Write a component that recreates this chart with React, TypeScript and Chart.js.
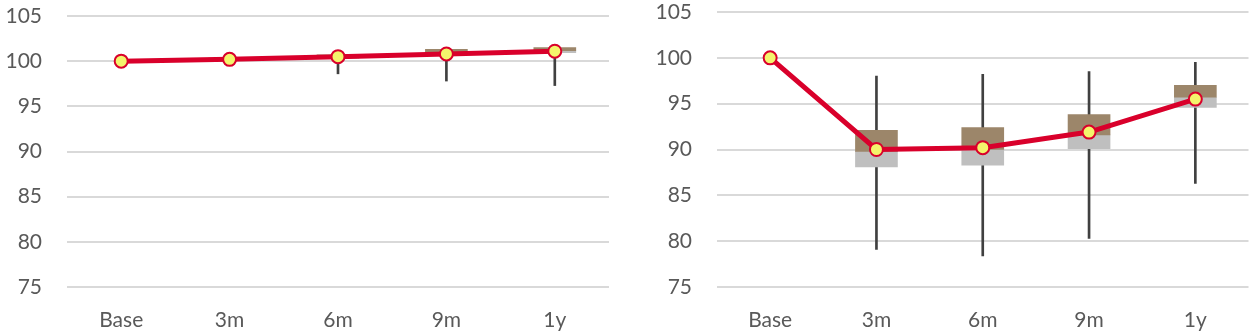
import React, { useEffect, useRef } from "react";
import { Chart, registerables } from "chart.js";

Chart.register(...registerables);

const categories = ["Base", "3m", "6m", "9m", "1y"];
const yTicks = [75, 80, 85, 90, 95, 100, 105];

const leftMean = [100, 100.2, 100.5, 100.8, 101.1];
const leftMin = [null, 99.9, 98.6, 97.8, 97.3];
const leftMax = [null, 100.4, 100.8, 101.2, 101.7];
const leftQ1 = [null, 100.1, 100.3, 100.7, 100.95];
const leftMedian = [null, 100.2, 100.5, 100.9, 101.15];
const leftQ3 = [null, 100.35, 100.7, 101.3, 101.5];

const rightMean = [100, 90.0, 90.2, 91.9, 95.5];
const rightMin = [null, 79.1, 78.4, 80.3, 86.3];
const rightMax = [null, 98.0, 98.2, 98.5, 99.5];
const rightQ1 = [null, 88.1, 88.3, 90.1, 94.6];
const rightMedian = [null, 89.8, 90.0, 91.6, 95.7];
const rightQ3 = [null, 92.1, 92.4, 93.8, 97.0];

const FONT = "Lato, 'Open Sans', sans-serif";
const TEXT = "#595959";

type Series = {
  mean: (number | null)[];
  min: (number | null)[];
  max: (number | null)[];
  q1: (number | null)[];
  median: (number | null)[];
  q3: (number | null)[];
};

function pair(a: (number | null)[], b: (number | null)[]) {
  return a.map((v, i) => (v == null || b[i] == null ? null : [v, b[i] as number]));
}

function makeConfig(s: Series, yWidth: number, top: number, padRight: number): any {
  return {
    type: "bar",
    data: {
      labels: categories,
      datasets: [
        {
          type: "line",
          data: s.mean,
          borderColor: "#D9002B",
          borderWidth: 5,
          pointRadius: 6.5,
          pointBorderWidth: 2,
          pointBackgroundColor: "#F4F46C",
          pointBorderColor: "#D9002B",
          order: 0,
        },
        {
          type: "bar",
          data: pair(s.median, s.q3),
          backgroundColor: "#9C866A",
          barThickness: 42,
          grouped: false,
          order: 1,
        },
        {
          type: "bar",
          data: pair(s.q1, s.median),
          backgroundColor: "#BFBFBF",
          barThickness: 42,
          grouped: false,
          order: 2,
        },
        {
          type: "bar",
          data: pair(s.min, s.max),
          backgroundColor: "#404040",
          barThickness: 2,
          grouped: false,
          order: 3,
        },
      ],
    },
    options: {
      animation: false,
      responsive: false,
      events: [],
      layout: { padding: { top: 0, right: padRight, left: 0, bottom: 0 } },
      plugins: { legend: { display: false }, tooltip: { enabled: false } },
      scales: {
        x: {
          grid: { display: false, drawTicks: false },
          border: { display: false },
          ticks: { color: TEXT, font: { family: FONT, size: 21 }, padding: 21 },
          afterFit: (scale: any) => {
            scale.height = 46;
          },
        },
        y: {
          min: 75,
          max: 105,
          afterBuildTicks: (scale: any) => {
            scale.ticks = yTicks.map((v) => ({ value: v }));
          },
          grid: { color: "#D9D9D9", lineWidth: 2, drawTicks: false },
          border: { display: false },
          ticks: { color: TEXT, font: { family: FONT, size: 21 }, padding: 25 },
          afterFit: (scale: any) => {
            scale.width = yWidth;
            scale.paddingTop = top;
            scale.paddingBottom = 0;
          },
        },
      },
    },
  };
}

function Panel({ series, left, width, yWidth, top, padRight }: any) {
  const ref = useRef<HTMLCanvasElement>(null);
  useEffect(() => {
    const chart = new Chart(ref.current as HTMLCanvasElement, makeConfig(series, yWidth, top, padRight));
    return () => chart.destroy();
  }, []);
  return (
    <div style={{ position: "absolute", left, top: 0, width, height: 333 }}>
      <canvas ref={ref} width={width} height={333} />
    </div>
  );
}

export default function App() {
  const leftSeries: Series = {
    mean: leftMean, min: leftMin, max: leftMax, q1: leftQ1, median: leftMedian, q3: leftQ3,
  };
  const rightSeries: Series = {
    mean: rightMean, min: rightMin, max: rightMax, q1: rightQ1, median: rightMedian, q3: rightQ3,
  };
  return (
    <div style={{ position: "absolute", left: 0, top: 0, width: 1257, height: 333, background: "#fff" }}>
      <Panel series={leftSeries} left={0} width={620} yWidth={67} top={16} padRight={11} />
      <Panel series={rightSeries} left={640} width={617} yWidth={77} top={12} padRight={5} />
    </div>
  );
}
